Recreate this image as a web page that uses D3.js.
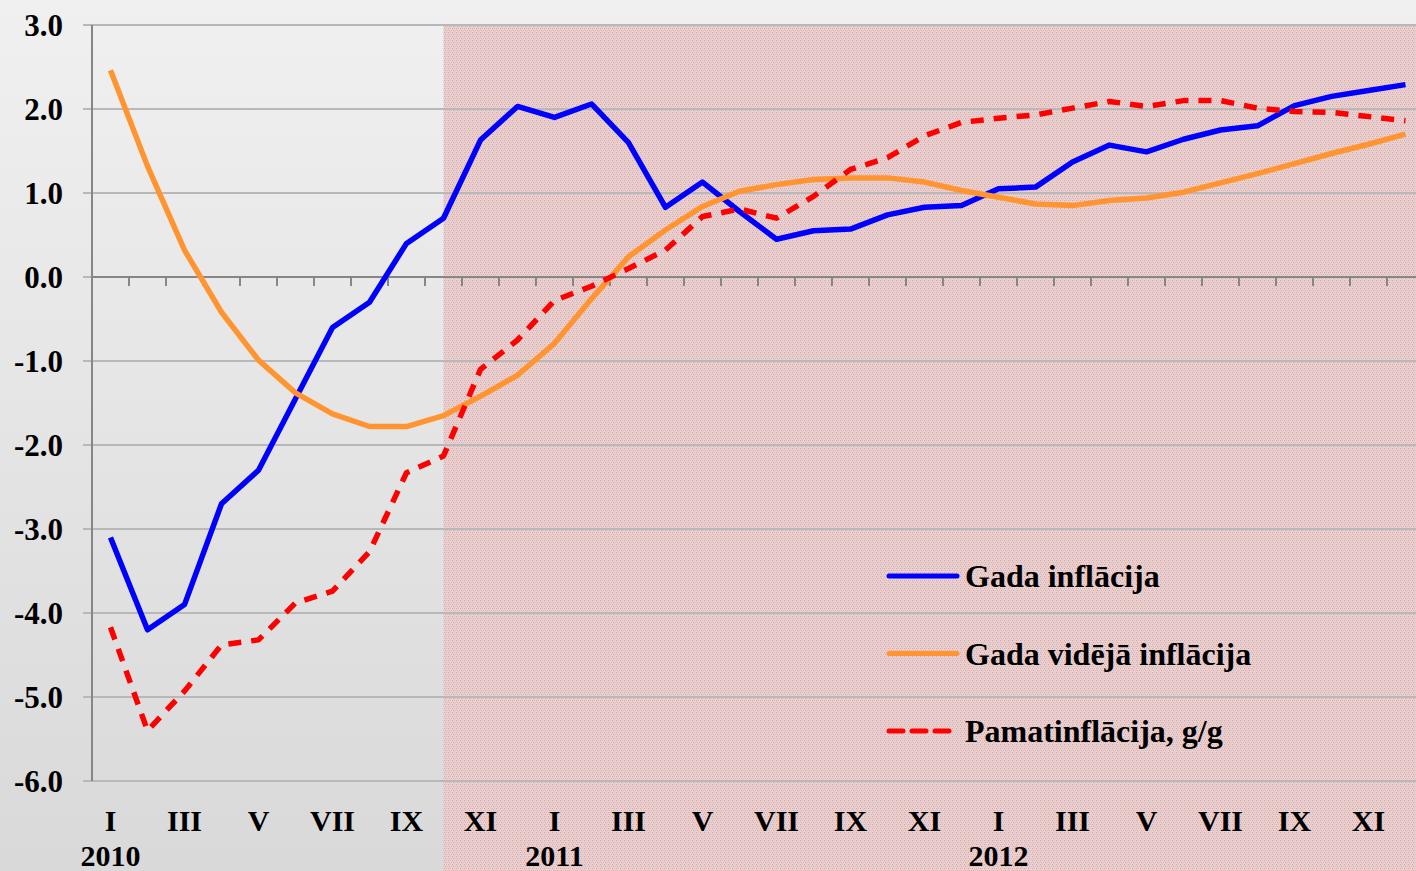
<!DOCTYPE html>
<html lang="lv">
<head>
<meta charset="utf-8">
<title>Inflācija 2010-2012</title>
<script src="https://d3js.org/d3.v7.min.js"></script>
<style>
body { margin: 0; background: #e6e6e6; }
text { font-family: "Liberation Serif", "Times New Roman", serif; font-weight: bold; fill: #000; }
.grid line { stroke: #b8b8b8; stroke-width: 2px; }
.line { fill: none; stroke-width: 5.5px; stroke-linejoin: round; }
</style>
</head>
<body>
<script>

// months Jan 2010 .. Dec 2012
var months = ["I","II","III","IV","V","VI","VII","VIII","IX","X","XI","XII"];
var years = ["2010", "2011", "2012"];

var gada = [-3.1, -4.2, -3.9, -2.7, -2.3, -1.45, -0.6, -0.3, 0.4, 0.7,
  1.63, 2.03, 1.9, 2.06, 1.6, 0.83, 1.13, 0.78, 0.45, 0.55, 0.57, 0.74,
  0.83, 0.85, 1.05, 1.07, 1.37, 1.57, 1.49, 1.64, 1.75, 1.8, 2.04, 2.15, 2.22, 2.29];

var videja = [2.46, 1.32, 0.32, -0.42, -0.99, -1.38, -1.63, -1.78, -1.78, -1.65,
  -1.42, -1.17, -0.79, -0.26, 0.24, 0.56, 0.84, 1.02, 1.1, 1.16, 1.18, 1.18,
  1.13, 1.03, 0.95, 0.87, 0.85, 0.91, 0.94, 1.01, 1.12, 1.23, 1.35, 1.47, 1.58, 1.7];

var pamata = [-4.17, -5.4, -4.93, -4.38, -4.32, -3.88, -3.74, -3.27, -2.33, -2.13,
  -1.1, -0.75, -0.28, -0.11, 0.1, 0.32, 0.72, 0.81, 0.7, 0.96, 1.28, 1.42,
  1.68, 1.84, 1.89, 1.93, 2.01, 2.09, 2.03, 2.1, 2.1, 2.01, 1.97, 1.96, 1.91, 1.86];

var yTicks = [3, 2, 1, 0, -1, -2, -3, -4, -5, -6];

var W = 1416, H = 871;
var shadeFrom = 9; // October 2010

var svg = d3.select("body").append("svg")
    .attr("width", W)
    .attr("height", H);

var defs = svg.append("defs");
var bg = defs.append("linearGradient")
    .attr("id", "bg").attr("x1", 0).attr("y1", 0).attr("x2", 0).attr("y2", 1);
bg.append("stop").attr("offset", "0%").attr("stop-color", "#f0f0f0");
bg.append("stop").attr("offset", "100%").attr("stop-color", "#d9d9d9");

var pat = defs.append("pattern")
    .attr("id", "dots")
    .attr("patternUnits", "userSpaceOnUse")
    .attr("width", 4).attr("height", 4);
pat.append("rect").attr("width", 4).attr("height", 4).attr("fill", "#e0d6d6");
pat.append("rect").attr("x", 0).attr("y", 0).attr("width", 1).attr("height", 1).attr("fill", "#f59a9a");
pat.append("rect").attr("x", 2).attr("y", 0).attr("width", 1).attr("height", 1).attr("fill", "#f0b4b4");
pat.append("rect").attr("x", 1).attr("y", 2).attr("width", 1).attr("height", 1).attr("fill", "#f59a9a");
pat.append("rect").attr("x", 3).attr("y", 2).attr("width", 1).attr("height", 1).attr("fill", "#f0b4b4");
pat.append("rect").attr("x", 0).attr("y", 1).attr("width", 1).attr("height", 1).attr("fill", "#e8c8c8");
pat.append("rect").attr("x", 2).attr("y", 3).attr("width", 1).attr("height", 1).attr("fill", "#e8c8c8");

svg.append("rect").attr("width", W).attr("height", H).attr("fill", "url(#bg)");

var x = d3.scaleLinear()
    .domain([-0.5, gada.length - 0.5])
    .range([92, 92 + 37 * gada.length]);

var y = d3.scaleLinear()
    .domain([-6, 3])
    .range([781, 25]);

// shaded forecast area
svg.append("rect")
    .attr("x", x(shadeFrom))
    .attr("y", y(3))
    .attr("width", W - x(shadeFrom))
    .attr("height", H - y(3))
    .attr("fill", "url(#dots)");

// gridlines
svg.append("g")
    .attr("class", "grid")
    .selectAll("line")
    .data(yTicks)
    .enter().append("line")
    .attr("x1", 83)
    .attr("x2", W)
    .attr("y1", function(d) { return y(d); })
    .attr("y2", function(d) { return y(d); });

// y axis
svg.append("line")
    .attr("x1", 92).attr("x2", 92)
    .attr("y1", y(3)).attr("y2", y(-6))
    .attr("stroke", "#868686").attr("stroke-width", 2);

svg.append("g")
    .selectAll("text")
    .data(yTicks)
    .enter().append("text")
    .attr("x", 63)
    .attr("y", function(d) { return y(d) + 11; })
    .attr("text-anchor", "end")
    .style("font-size", "31px")
    .text(function(d) { return d3.format(".1f")(d).replace("−", "-"); });

// category axis at zero
svg.append("line")
    .attr("x1", 92).attr("x2", W)
    .attr("y1", y(0)).attr("y2", y(0))
    .attr("stroke", "#868686").attr("stroke-width", 2);

svg.append("g")
    .selectAll("line")
    .data(d3.range(1, gada.length + 1))
    .enter().append("line")
    .attr("x1", function(d) { return x(d - 0.5); })
    .attr("x2", function(d) { return x(d - 0.5); })
    .attr("y1", y(0))
    .attr("y2", y(0) + 9)
    .attr("stroke", "#868686").attr("stroke-width", 2);

// month labels (every other month)
svg.append("g")
    .selectAll("text")
    .data(d3.range(0, gada.length, 2))
    .enter().append("text")
    .attr("x", function(d) { return x(d); })
    .attr("y", 831)
    .attr("text-anchor", "middle")
    .style("font-size", "30px")
    .text(function(d) { return months[d % 12]; });

svg.append("g")
    .selectAll("text")
    .data(years)
    .enter().append("text")
    .attr("x", function(d, i) { return x(i * 12); })
    .attr("y", 866)
    .attr("text-anchor", "middle")
    .style("font-size", "30px")
    .text(function(d) { return d; });

// series
var series = [
  { name: "Gada inflācija", values: gada, color: "#0000ff", dash: null },
  { name: "Gada vidējā inflācija", values: videja, color: "#ff9430", dash: null },
  { name: "Pamatinflācija, g/g", values: pamata, color: "#ff0000", dash: "13,10" }
];

var line = d3.line()
    .x(function(d, i) { return x(i); })
    .y(function(d) { return y(d); });

series.forEach(function(s) {
  svg.append("path")
      .datum(s.values)
      .attr("class", "line")
      .attr("stroke", s.color)
      .attr("stroke-dasharray", s.dash)
      .attr("d", line);
});

// legend
var legend = svg.append("g")
    .selectAll("g")
    .data(series)
    .enter().append("g")
    .attr("transform", function(d, i) { return "translate(887," + (576 + i * 77.5) + ")"; });

legend.append("line")
    .attr("x1", 2).attr("x2", 70)
    .attr("stroke", function(d) { return d.color; })
    .attr("stroke-width", 5)
    .attr("stroke-linecap", "round")
    .attr("stroke-dasharray", function(d) { return d.dash ? "14,9" : null; });

legend.append("text")
    .attr("x", 78)
    .attr("y", 11)
    .style("font-size", "32px")
    .text(function(d) { return d.name; });

</script>
</body>
</html>
